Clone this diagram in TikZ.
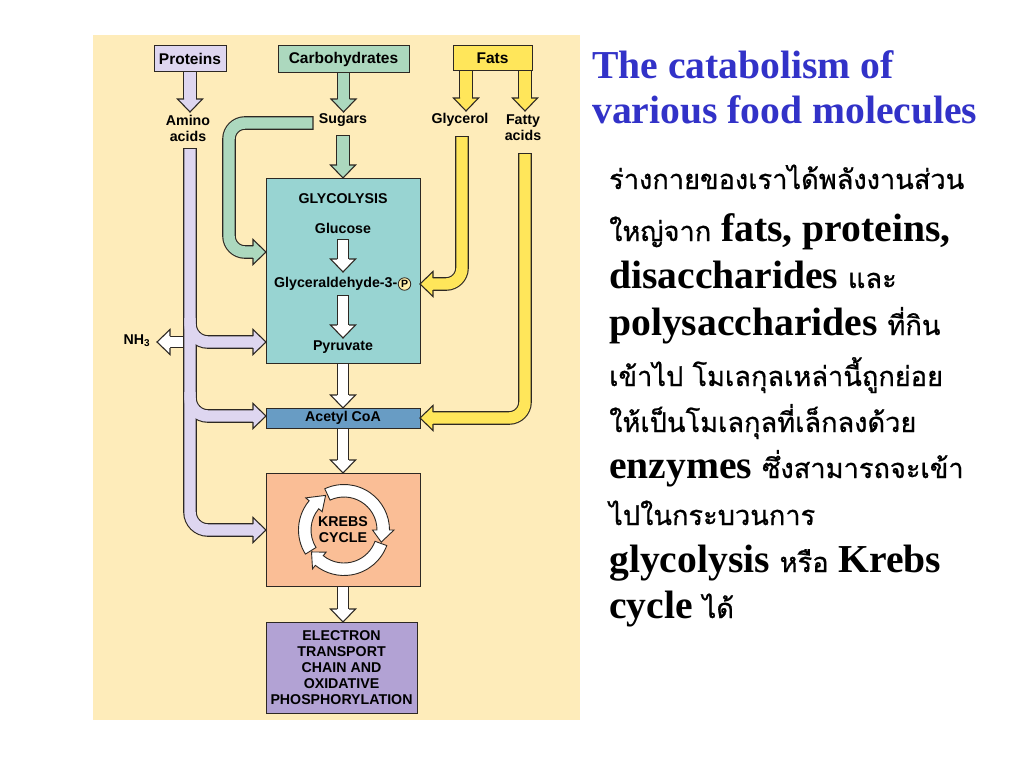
\documentclass[tikz,border=0pt]{standalone}
\usepackage{fontspec}
\setmainfont{Liberation Serif}
\newfontfamily\thai[Script=Thai, FakeBold=0.8]{Loma}
\newfontfamily\lab{Liberation Sans}
\definecolor{panelC}{RGB}{254,236,186}
\definecolor{protC}{RGB}{222,214,240}
\definecolor{carbC}{RGB}{172,216,190}
\definecolor{fatC}{RGB}{255,230,90}
\definecolor{glycC}{RGB}{152,212,210}
\definecolor{acetC}{RGB}{104,156,196}
\definecolor{krebsC}{RGB}{250,190,150}
\definecolor{etcC}{RGB}{178,162,212}
\definecolor{pC}{RGB}{255,238,170}
\definecolor{titleC}{RGB}{50,50,200}
\definecolor{lineC}{RGB}{45,40,35}
\pgfdeclarelayer{panel}
\pgfdeclarelayer{po}
\pgfdeclarelayer{pf}
\pgfsetlayers{panel,po,pf,main}
\newcommand\tht[1]{{\thai\mdseries\fontsize{27.2}{30}\selectfont #1}}
% #1 colour, #2 common options, #3 fill-only options, #4 path
\newcommand\pipe[4]{%
  \begin{pgfonlayer}{po}\draw[pipeo,#2] #4;\end{pgfonlayer}%
  \begin{pgfonlayer}{pf}\draw[pipef=#1,#2,#3] #4;\end{pgfonlayer}}
\newcommand\wpipe[4]{%
  \begin{pgfonlayer}{po}\draw[wpipeo,#2] #4;\end{pgfonlayer}%
  \begin{pgfonlayer}{pf}\draw[wpipef=#1,#2,#3] #4;\end{pgfonlayer}}
\begin{document}
\begin{tikzpicture}[x=1pt,y=-1pt,
  pipeo/.style={line width=13.6pt, draw=lineC},
  pipef/.style={line width=11.4pt, draw=#1},
  wpipeo/.style={line width=12.6pt, draw=lineC},
  wpipef/.style={line width=10.4pt, draw=#1},
  box/.style={draw=lineC, line width=1pt, inner sep=0pt},
  lbl/.style={font=\lab\bfseries\fontsize{14.2}{16}\selectfont, align=center, inner sep=0pt},
  toplbl/.style={font=\lab\bfseries\fontsize{15.5}{17}\selectfont},
  body/.style={anchor=base west, inner sep=0pt, font=\bfseries\fontsize{39.6}{46}\selectfont},
  ttl/.style={anchor=base west, inner sep=0pt, text=titleC, font=\bfseries\fontsize{39.6}{46}\selectfont},
  ahead/.pic={
    \fill[#1] (0,0) -- (-13,12.5) -- (-13,-12.5) -- cycle;
    \draw[lineC, line width=1.1pt, line join=miter] (-13,6) -- (-13,12.5) -- (0,0) -- (-13,-12.5) -- (-13,-6);
  }
]
\useasboundingbox (0,0) rectangle (1024,768);
\begin{pgfonlayer}{panel}
\fill[white] (0,0) rectangle (1024,768);
\fill[panelC] (93,35) rectangle (580,720);
\end{pgfonlayer}

% ---------- boxes ----------
\node[box, toplbl, fill=protC, minimum width=72pt, minimum height=25pt] (prot) at (190,58.5) {Proteins};
\node[box, toplbl, fill=carbC, minimum width=131pt, minimum height=26pt] (carb) at (343.5,59) {Carbohydrates};
\node[box, toplbl, fill=fatC, minimum width=79pt, minimum height=24pt] (fats) at (492.5,58) {Fats};

\node[lbl] (amino) at (188,128) {Amino\\acids};
\node[lbl] (sugars) at (343,120) {Sugars};
\node[lbl] (glycerol) at (460,120) {Glycerol};
\node[lbl] (fatty) at (523,128) {Fatty\\acids};

\node[box, fill=glycC, minimum width=154pt, minimum height=185pt] (glyc) at (343,270.5) {};
\node[box, lbl, fill=acetC, minimum width=154pt, minimum height=20pt] (acetyl) at (343,418) {Acetyl CoA};
\node[box, fill=krebsC, minimum width=154pt, minimum height=113pt] (krebs) at (343,529.5) {};
\node[box, lbl, fill=etcC, minimum width=151pt, minimum height=91pt] (etc) at (341.5,667.5)
  {ELECTRON\\TRANSPORT\\CHAIN AND\\OXIDATIVE\\PHOSPHORYLATION};

\node[lbl] (tgly) at (343,199) {GLYCOLYSIS};
\node[lbl] (glucose) at (343,228) {Glucose};
\node[lbl, anchor=east] (g3p) at (397.5,284) {Glyceraldehyde-3-};
\node[draw=lineC, line width=0.8pt, circle, fill=pC, minimum size=12.5pt, inner sep=0pt,
      font=\lab\bfseries\fontsize{10.5}{10.5}\selectfont] (pcirc) at (404.5,284) {P};
\node[lbl] (pyruvate) at (343,347) {Pyruvate};
\node[lbl] (nh3) at (137,341) {NH\textsubscript{3}};

% ---------- named points ----------
\coordinate (tAmino) at (190,112);
\coordinate (tSugar) at (343.5,112);
\coordinate (tGlycerol) at (466,111);
\coordinate (tFatty) at (525,111);
\coordinate (tGlyTop) at (343,178);
\coordinate (sugBot) at (343,135);
\coordinate (gStart) at (313.5,123);
\coordinate (tGreen) at (266,252);
\coordinate (aTop) at (190,148);
\coordinate (tKrebsP) at (266,530);
\coordinate (tPyrP) at (266,342);
\coordinate (tAcP) at (266,416);
\coordinate (nhStart) at (182.8,342);
\coordinate (tNH3) at (157,342);
\coordinate (yTop1) at (462,136);
\coordinate (tGlyY) at (420,284);
\coordinate (yTop2) at (525,153);
\coordinate (tAcY) at (420,418);
\coordinate (tAcTop) at (343,408);
\coordinate (tKrTop) at (343,473);
\coordinate (tEtcTop) at (343,622);
\coordinate (kc) at (344,530);

% ---------- pipes ----------
\pipe{protC}{shorten >=11pt}{}{(prot.south) -- (tAmino)}
\pipe{carbC}{shorten >=11pt}{}{(carb.south) -- (tSugar)}
\pipe{fatC}{shorten >=11pt}{}{(tGlycerol |- fats.south) -- (tGlycerol)}
\pipe{fatC}{shorten >=11pt}{}{(tFatty |- fats.south) -- (tFatty)}
\pipe{carbC}{shorten >=11pt}{shorten <=1.1pt}{(sugBot) -- (tGlyTop)}
\pipe{carbC}{rounded corners=16, shorten >=11pt}{shorten <=1.1pt}{(gStart) -- (229,123) -- (229,252) -- (tGreen)}
\pipe{protC}{rounded corners=18, shorten >=11pt}{shorten <=1.1pt}{(aTop) -- (190,530) -- (tKrebsP)}
\pipe{protC}{rounded corners=18, shorten >=11pt}{}{(190,318) -- (190,342) -- (tPyrP)}
\pipe{protC}{rounded corners=18, shorten >=11pt}{}{(190,392) -- (190,416) -- (tAcP)}
\wpipe{white}{shorten >=11pt}{}{(nhStart) -- (tNH3)}
\pipe{fatC}{rounded corners=16, shorten >=11pt}{shorten <=1.1pt}{(yTop1) -- (462,284) -- (tGlyY)}
\pipe{fatC}{rounded corners=16, shorten >=11pt}{shorten <=1.1pt}{(yTop2) -- (525,418) -- (tAcY)}
\wpipe{white}{shorten >=11pt}{}{(glyc.south) -- (tAcTop)}
\wpipe{white}{shorten >=11pt}{}{(acetyl.south) -- (tKrTop)}
\wpipe{white}{shorten >=11pt}{}{(krebs.south) -- (tEtcTop)}

% arrows inside glycolysis
\coordinate (w1s) at (343,239);
\coordinate (w1t) at (343,272);
\coordinate (w2s) at (343,295);
\coordinate (w2t) at (343,338);
\draw[wpipeo, shorten >=11pt] (w1s) -- (w1t);
\draw[wpipef=white, shorten >=11pt, shorten <=1.1pt] (w1s) -- (w1t);
\draw[wpipeo, shorten >=11pt] (w2s) -- (w2t);
\draw[wpipef=white, shorten >=11pt, shorten <=1.1pt] (w2s) -- (w2t);

% ---------- heads ----------
\pic[rotate=-90] at (tAmino) {ahead=protC};
\pic[rotate=-90] at (tSugar) {ahead=carbC};
\pic[rotate=-90] at (tGlycerol) {ahead=fatC};
\pic[rotate=-90] at (tFatty) {ahead=fatC};
\pic[rotate=-90] at (tGlyTop) {ahead=carbC};
\pic at (tGreen) {ahead=carbC};
\pic at (tKrebsP) {ahead=protC};
\pic at (tPyrP) {ahead=protC};
\pic at (tAcP) {ahead=protC};
\pic[rotate=180] at (tNH3) {ahead=white};
\pic[rotate=180] at (tGlyY) {ahead=fatC};
\pic[rotate=180] at (tAcY) {ahead=fatC};
\pic[rotate=-90] at (tAcTop) {ahead=white};
\pic[rotate=-90] at (tKrTop) {ahead=white};
\pic[rotate=-90] at (tEtcTop) {ahead=white};
\pic[rotate=-90] at (w1t) {ahead=white};
\pic[rotate=-90] at (w2t) {ahead=white};

% ---------- Krebs ring ----------
\begin{scope}[shift={(kc)}]
  \foreach \S/\B/\T in {245/360/378, 20/129/146, 148/220/242}{
    \filldraw[fill=white, draw=lineC, line width=0.9pt, line join=miter]
      (\S:45.5) arc[start angle=\S, end angle=\B, radius=45.5]
      -- (\B:50) -- (\T:39.2) -- (\B:28.5) -- (\B:33)
      arc[start angle=\B, end angle=\S, radius=33] -- cycle;
  }
\end{scope}
\node[lbl] (kreb) at (343,530) {KREBS\\CYCLE};

% ---------- right-hand text ----------
\node[ttl] (t1) at (592,78) {The catabolism of};
\node[ttl] (t2) at (592,123) {various food molecules};

\node[body] (b1) at (609,189) {\tht{ร่างกายของเราได้พลังงานส่วน}};
\node[body] (b2) at (609,241) {\tht{ใหญ่จาก} fats, proteins,};
\node[body] (b3) at (609,288) {disaccharides \tht{และ}};
\node[body] (b4) at (609,335) {polysaccharides \tht{ที่กิน}};
\node[body] (b5) at (609,386) {\tht{เข้าไป โมเลกุลเหล่านี้ถูกย่อย}};
\node[body] (b6) at (609,432) {\tht{ให้เป็นโมเลกุลที่เล็กลงด้วย}};
\node[body] (b7) at (609,478) {enzymes \tht{ซึ่งสามารถจะเข้า}};
\node[body] (b8) at (609,525) {\tht{ไปในกระบวนการ}};
\node[body] (b9) at (609,572) {glycolysis \tht{หรือ} Krebs};
\node[body] (b10) at (609,618) {cycle \tht{ได้}};
\end{tikzpicture}
\end{document}
